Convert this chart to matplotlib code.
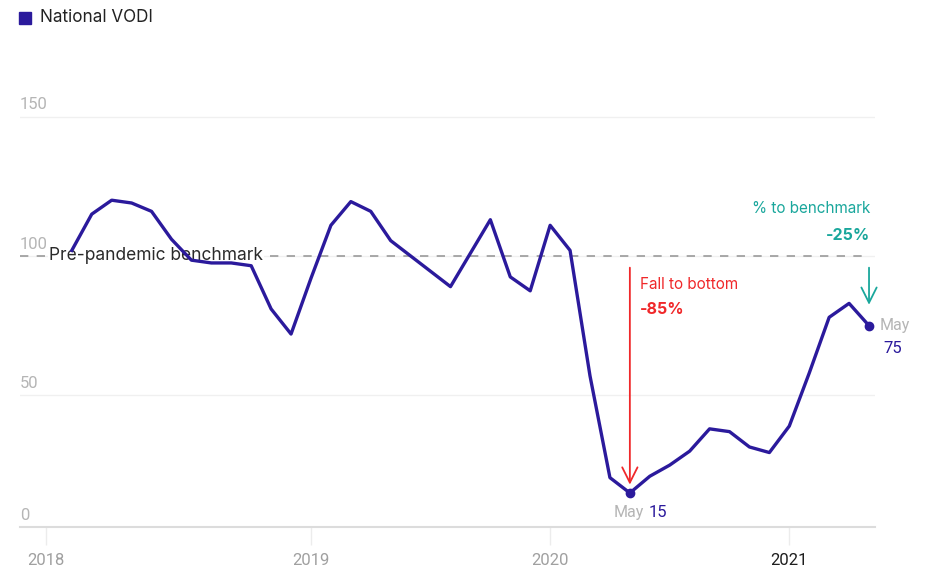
import matplotlib
matplotlib.use("Agg")
import matplotlib.pyplot as plt
import numpy as np

# National VODI, monthly from Jan 2018 to May 2021
vodi = [102, 115, 120, 119, 116, 106, 98.5, 97.5, 97.5, 96.5, 81, 72,
        92, 111, 119.5, 116, 105.5, 100, 94.5, 89, 101, 113, 92.5, 87.5,
        111, 102, 57, 20.5, 15, 21, 25, 30, 38, 37, 31.5, 29.5,
        39, 58, 78, 83, 75]
benchmark = 100
y_ticks = [0, 50, 100, 150]
year_labels = ["2018", "2019", "2020", "2021"]
year_pos = [-1.3, 12, 24, 36]
low_idx = 28     # May 2020
last_idx = 40    # May 2021

LINE = "#2b1a9c"
RED = "#f0282a"
TEAL = "#1aa79c"
GRAY = "#b5b5b5"

plt.rcParams["font.family"] = ["Inter", "DejaVu Sans"]

fig = plt.figure(figsize=(9.26, 5.74), dpi=100)
ax = fig.add_axes([20 / 926, 47 / 574, 855 / 926, 527 / 574])
ax.set_xlim(-2.6, 40.3)
ax.set_ylim(2.8, 191.8)

x = np.arange(len(vodi))

# grid + y labels
for v in y_ticks:
    if v > 0:
        ax.axhline(v, color="#f0f0f0", lw=1, zorder=0)
    ax.annotate(str(v), xy=(-2.6, max(v, 2.8)), xytext=(0, 3), textcoords="offset points",
                ha="left", va="bottom", fontsize=12, color=GRAY, family="Roboto")

# benchmark
ax.axhline(benchmark, xmax=(39.9 + 2.6) / 42.9, color="#9a9a9a", lw=1.2,
           dashes=(5, 5), zorder=1)
ax.text(-1.15, benchmark, "Pre-pandemic benchmark", fontsize=12.5, color="#2a2a2a",
        ha="left", va="center", zorder=2,
        bbox=dict(facecolor="white", edgecolor="none", pad=0.5))

# main line
ax.plot(x, vodi, color=LINE, lw=2.4, zorder=3, solid_joinstyle="round")
ax.scatter([x[low_idx], x[last_idx]], [vodi[low_idx], vodi[last_idx]],
           s=36, color=LINE, zorder=4)

arrow_style = "->,head_length=1.1,head_width=0.55"

# fall to bottom arrow
ax.annotate("", xy=(low_idx, vodi[low_idx] + 2), xytext=(low_idx, 96.8),
            arrowprops=dict(arrowstyle=arrow_style, color=RED, lw=1.3), zorder=3)
ax.annotate("Fall to bottom", xy=(low_idx, 89.6), xytext=(7, 0), textcoords="offset points",
            fontsize=11, color=RED, ha="left", va="center")
ax.annotate("-85%", xy=(low_idx, 80.9), xytext=(7, 0), textcoords="offset points",
            fontsize=11.5, color=RED, ha="left", va="center", fontweight="bold")

# to benchmark arrow
ax.annotate("", xy=(last_idx, 81.5), xytext=(last_idx, 96.8),
            arrowprops=dict(arrowstyle=arrow_style, color=TEAL, lw=1.3))
ax.annotate("% to benchmark", xy=(last_idx, 116.9), xytext=(1, 0), textcoords="offset points",
            fontsize=11, color=TEAL, ha="right", va="center")
ax.annotate("-25%", xy=(last_idx, 107.5), xytext=(1, 0), textcoords="offset points",
            fontsize=11.5, color=TEAL, ha="right", va="center", fontweight="bold")

# point labels
ax.annotate("May", xy=(low_idx, vodi[low_idx]), xytext=(10, -14), textcoords="offset points",
            fontsize=11.5, color=GRAY, ha="right", va="center", family="Roboto")
ax.annotate(str(vodi[low_idx]), xy=(low_idx, vodi[low_idx]), xytext=(13.5, -14),
            textcoords="offset points", fontsize=12, color=LINE, ha="left", va="center",
            family="Roboto")
ax.annotate("May", xy=(last_idx, vodi[last_idx]), xytext=(7.5, 0), textcoords="offset points",
            fontsize=11.5, color=GRAY, ha="left", va="center", family="Roboto")
ax.annotate(str(vodi[last_idx]), xy=(last_idx, vodi[last_idx]), xytext=(10, -16.5),
            textcoords="offset points", fontsize=12, color=LINE, ha="left", va="center",
            family="Roboto")

# axes styling
for s in ["top", "right", "left"]:
    ax.spines[s].set_visible(False)
ax.spines["bottom"].set_color("#dcdcdc")
ax.spines["bottom"].set_linewidth(1.5)
ax.set_yticks([])
ax.set_xticks(year_pos)
ax.set_xticklabels(year_labels, family="Roboto", fontsize=12)
ax.tick_params(axis="x", length=13, width=1, color="#ececec", pad=6)
for lbl in ax.get_xticklabels():
    lbl.set_color("#1e1e1e" if lbl.get_text() == "2021" else "#a0a0a0")

# legend
fig.patches.append(plt.Rectangle((19 / 926, 1 - 24 / 574), 12 / 926, 12 / 574,
                                 transform=fig.transFigure, color=LINE))
fig.text(40 / 926, 1 - 18 / 574, "National VODI", fontsize=12.3, color="#222222",
         ha="left", va="center")

fig.savefig("out.png", dpi=100)
